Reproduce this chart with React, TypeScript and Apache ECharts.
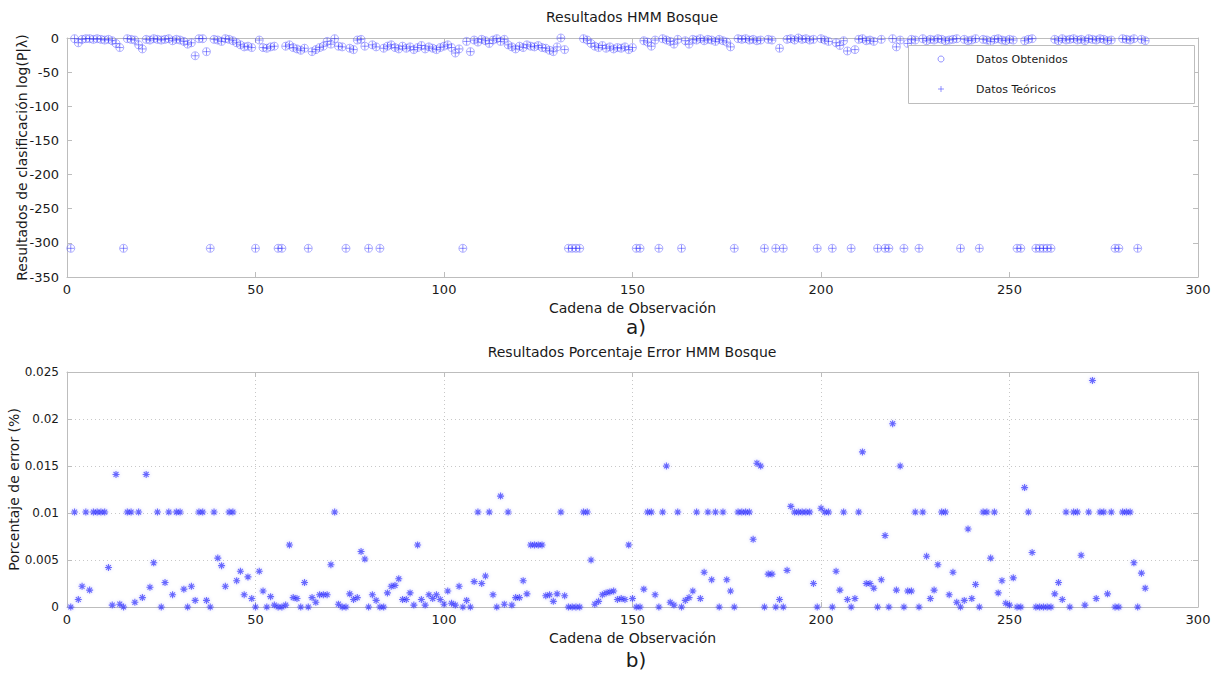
import React, { useEffect, useRef } from "react";
import * as echarts from "echarts";

// Observation index runs 1..286
const logLikelihood = [
  -308, -1, -7, -2, -1, -1, -2, -1, -2, -3,
  -2, -4, -8, -14, -308, -1, -2, -3, -10, -16,
  -2, -3, -1, -2, -3, -2, -1, -4, -2, -3,
  -5, -9, -7, -26, -1, -1, -20, -308, -2, -3,
  -5, -1, -2, -4, -7, -10, -13, -12, -14, -308,
  -3, -14, -15, -13, -12, -308, -308, -12, -10, -14,
  -16, -18, -15, -308, -20, -17, -14, -12, -5, -9,
  -1, -12, -13, -308, -15, -17, -3, -2, -12, -308,
  -10, -13, -308, -15, -12, -10, -14, -16, -12, -15,
  -13, -17, -14, -11, -16, -13, -15, -17, -14, -12,
  -10, -14, -22, -16, -308, -5, -20, -3, -6, -2,
  -4, -8, -3, -1, -5, -2, -10, -13, -16, -12,
  -14, -10, -12, -13, -11, -14, -15, -18, -20, -13,
  0, -17, -308, -308, -308, -308, -1, -3, -8, -12,
  -14, -11, -15, -13, -16, -14, -15, -13, -17, -14,
  -308, -308, -4, -6, -12, -3, -308, -1, -3, -5,
  -9, -2, -308, -4, -9, -2, -3, -1, -4, -2,
  -3, -5, -2, -4, -6, -13, -308, -1, -2, -1,
  -3, -2, -4, -3, -308, -2, -3, -308, -15, -308,
  -2, -1, -3, 0, -2, -1, -3, -2, -308, -1,
  -3, -5, -308, -7, -11, -4, -19, -308, -17, -2,
  -1, -4, -3, -5, -308, -2, -308, -308, -1, -13,
  -3, -308, -8, -2, -3, -308, -1, -4, -2, -3,
  -1, -2, -4, -3, -2, -1, -308, -2, -4, -3,
  -1, -308, -2, -3, -5, -2, -1, -3, -4, -2,
  -3, -308, -308, -4, -2, -1, -308, -308, -308, -308,
  -308, -2, -4, -1, -3, -2, -1, -3, -2, -4,
  -1, -2, -3, -1, -2, -4, -3, -308, -308, -1,
  -2, -3, -1, -308, -2, -4,
];

const errorPct = [
  0, 0.0101, 0.0008, 0.0022, 0.0101, 0.0018, 0.0101, 0.0101, 0.0101, 0.0101,
  0.0042, 0.0002, 0.0141, 0.0003, 0, 0.0101, 0.0101, 0.0005, 0.0101, 0.001,
  0.0141, 0.0021, 0.0047, 0.0101, 0, 0.0026, 0.0101, 0.0013, 0.0101, 0.0101,
  0.0019, 0, 0.0022, 0.0007, 0.0101, 0.0101, 0.0007, 0, 0.0101, 0.0052,
  0.0044, 0.0022, 0.0101, 0.0101, 0.0028, 0.0038, 0.0013, 0.0032, 0.0009, 0,
  0.0038, 0.0017, 0, 0.0011, 0.0002, 0, 0, 0.0002, 0.0066, 0.001,
  0.0009, 0, 0.0026, 0, 0.001, 0.0005, 0.0013, 0.0013, 0.0013, 0.0045,
  0.0101, 0.0003, 0, 0, 0.0014, 0.0008, 0.001, 0.0059, 0.0051, 0,
  0.0013, 0.0007, 0, 0, 0.0015, 0.0022, 0.0023, 0.003, 0.0008, 0.0008,
  0.0015, 0.0002, 0.0066, 0.0008, 0.0002, 0.0013, 0.0009, 0.0013, 0.0008, 0.0003,
  0.0017, 0.0004, 0.0002, 0.0022, 0, 0.0007, 0, 0.0027, 0.0101, 0.0025,
  0.0033, 0.0101, 0.0013, 0, 0.0118, 0.0003, 0.0101, 0.0002, 0.001, 0.001,
  0.0028, 0.0014, 0.0066, 0.0066, 0.0066, 0.0066, 0.0012, 0.0013, 0.0006, 0.0014,
  0.0101, 0.0012, 0, 0, 0, 0, 0.0101, 0.0101, 0.005, 0.0003,
  0.0006, 0.0013, 0.0015, 0.0016, 0.0017, 0.0008, 0.0009, 0.0008, 0.0066, 0.0009,
  0, 0, 0.0019, 0.0101, 0.0101, 0.0013, 0, 0.0101, 0.015, 0.0005,
  0.0002, 0.0101, 0, 0.0007, 0.001, 0.0017, 0.0101, 0.0009, 0.0037, 0.0101,
  0.0029, 0.0101, 0, 0.0101, 0.0029, 0.0017, 0, 0.0101, 0.0101, 0.0101,
  0.0101, 0.0072, 0.0153, 0.015, 0, 0.0035, 0.0035, 0, 0.0008, 0,
  0.0039, 0.0107, 0.0101, 0.0101, 0.0101, 0.0101, 0.0101, 0.0025, 0, 0.0105,
  0.0101, 0.0101, 0, 0.0038, 0.0018, 0.0101, 0.0008, 0, 0.0009, 0.0101,
  0.0165, 0.0025, 0.0025, 0.002, 0, 0.0029, 0.0076, 0, 0.0195, 0.0018,
  0.015, 0, 0.0017, 0.0017, 0.0101, 0, 0.0101, 0.0054, 0.0009, 0.0018,
  0.0045, 0.0101, 0.0101, 0.0013, 0.0037, 0.0005, 0, 0.0007, 0.0083, 0.0009,
  0.0024, 0, 0.0101, 0.0101, 0.0052, 0.0101, 0.0015, 0.0028, 0.0004, 0.0002,
  0.0031, 0, 0, 0.0127, 0.0101, 0.0058, 0, 0, 0, 0,
  0, 0.0014, 0.0026, 0.0008, 0.0101, 0, 0.0101, 0.0101, 0.0055, 0.0002,
  0.0101, 0.0241, 0.0009, 0.0101, 0.0101, 0.0014, 0.0101, 0, 0, 0.0101,
  0.0101, 0.0101, 0.0047, 0, 0.0036, 0.002,
];

const FONT = "DejaVu Sans";
const AXIS_COLOR = "#bdbdbd";
const TEXT = "#1a1a1a";
const TICK_FONT = 13;

const PLUS = "path://M5 0 L5 10 M0 5 L10 5";
const STAR = "path://M5 0 L5 10 M0 5 L10 5 M1.5 1.5 L8.5 8.5 M8.5 1.5 L1.5 8.5";

export default function App() {
  const ref = useRef<HTMLDivElement>(null);
  useEffect(() => {
    document.body.style.margin = "0";
    const chart = echarts.init(ref.current!, null, { renderer: "svg" });
    const topData = logLikelihood.map((v, i) => [i + 1, v]);
    const errData = errorPct.map((v, i) => [i + 1, v]);

    const baseX = (grid: number, split: boolean) => ({
      type: "value",
      gridIndex: grid,
      min: 0,
      max: 300,
      interval: 50,
      axisLine: { show: true, onZero: false, lineStyle: { color: AXIS_COLOR } },
      axisTick: { show: true, inside: true, length: 5, lineStyle: { color: AXIS_COLOR } },
      axisLabel: { color: TEXT, fontFamily: FONT, fontSize: TICK_FONT, margin: 6 },
      splitLine: split
        ? { show: true, lineStyle: { color: "#c8c8c8", type: [1, 3] } }
        : { show: false },
      name: "Cadena de Observación",
      nameLocation: "middle",
      nameGap: 24,
      nameMoveOverlap: false,
      nameTextStyle: { color: TEXT, fontFamily: FONT, fontSize: 14 },
    });
    const mirrorX = (grid: number) => ({
      type: "value",
      gridIndex: grid,
      position: "top",
      min: 0,
      max: 300,
      interval: 50,
      axisLine: { show: true, onZero: false, lineStyle: { color: AXIS_COLOR } },
      axisTick: { show: true, inside: true, length: 5, lineStyle: { color: AXIS_COLOR } },
      axisLabel: { show: false },
      splitLine: { show: false },
    });
    const mirrorY = (grid: number, min: number, max: number, interval: number) => ({
      type: "value",
      gridIndex: grid,
      position: "right",
      min,
      max,
      interval,
      axisLine: { show: true, onZero: false, lineStyle: { color: AXIS_COLOR } },
      axisTick: { show: true, inside: true, length: 5, lineStyle: { color: AXIS_COLOR } },
      axisLabel: { show: false },
      splitLine: { show: false },
    });

    chart.setOption({
      animation: false,
      backgroundColor: "#ffffff",
      grid: [
        { left: 67, right: 17, top: 38, height: 239, outerBoundsMode: "none", containLabel: false },
        { left: 67, right: 17, top: 372, height: 235, outerBoundsMode: "none", containLabel: false },
      ],
      xAxis: [baseX(0, false), baseX(1, true), mirrorX(0), mirrorX(1)],
      yAxis: [
        {
          type: "value",
          gridIndex: 0,
          min: -350,
          max: 0,
          interval: 50,
          axisLine: { show: true, onZero: false, lineStyle: { color: AXIS_COLOR } },
          axisTick: { show: true, inside: true, length: 5, lineStyle: { color: AXIS_COLOR } },
          axisLabel: { color: TEXT, fontFamily: FONT, fontSize: TICK_FONT, margin: 8 },
          splitLine: { show: false },
          name: "Resultados de clasificación log(P|λ)",
          nameLocation: "middle",
          nameGap: 38,
          nameMoveOverlap: false,
          nameTextStyle: { color: TEXT, fontFamily: FONT, fontSize: 14 },
        },
        {
          type: "value",
          gridIndex: 1,
          min: 0,
          max: 0.025,
          interval: 0.005,
          axisLine: { show: true, onZero: false, lineStyle: { color: AXIS_COLOR } },
          axisTick: { show: true, inside: true, length: 5, lineStyle: { color: AXIS_COLOR } },
          axisLabel: {
            color: TEXT,
            fontFamily: FONT,
            fontSize: 12,
            margin: 8,
            formatter: (v: number) => String(+v.toFixed(3)),
          },
          splitLine: { show: true, lineStyle: { color: "#c8c8c8", type: [1, 3] } },
          name: "Porcentaje de error (%)",
          nameLocation: "middle",
          nameGap: 46,
          nameMoveOverlap: false,
          nameTextStyle: { color: TEXT, fontFamily: FONT, fontSize: 14 },
        },
        mirrorY(0, -350, 0, 50),
        mirrorY(1, 0, 0.025, 0.005),
      ],
      series: [
        {
          name: "Datos Obtenidos",
          type: "scatter",
          xAxisIndex: 0,
          yAxisIndex: 0,
          data: topData,
          symbol: "circle",
          symbolSize: 8,
          clip: false,
          silent: true,
          itemStyle: { color: "rgba(0,0,0,0)", borderColor: "rgba(60,60,255,0.5)", borderWidth: 1 },
        },
        {
          name: "Datos Teóricos",
          type: "scatter",
          xAxisIndex: 0,
          yAxisIndex: 0,
          data: topData,
          symbol: PLUS,
          symbolSize: 7,
          clip: false,
          silent: true,
          itemStyle: { color: "rgba(0,0,0,0)", borderColor: "rgba(30,30,255,0.6)", borderWidth: 1 },
        },
        {
          name: "Porcentaje Error",
          type: "scatter",
          xAxisIndex: 1,
          yAxisIndex: 1,
          data: errData,
          symbol: STAR,
          symbolSize: 7,
          clip: false,
          silent: true,
          itemStyle: {
            color: "rgba(0,0,0,0)",
            borderColor: "rgba(20,20,255,0.75)",
            borderWidth: 1.1,
            shadowColor: "rgba(80,80,255,0.5)",
            shadowBlur: 3,
          },
        },
      ],
      graphic: [
        {
          type: "text",
          x: 632,
          y: 17,
          z: 100,
          style: { text: "Resultados HMM Bosque", fill: TEXT, font: `14px '${FONT}'`, align: "center", verticalAlign: "middle" },
        },
        {
          type: "text",
          x: 632,
          y: 352,
          z: 100,
          style: { text: "Resultados Porcentaje Error HMM Bosque", fill: TEXT, font: `14px '${FONT}'`, align: "center", verticalAlign: "middle" },
        },
        {
          type: "text",
          x: 636,
          y: 327,
          z: 100,
          style: { text: "a)", fill: TEXT, font: `20px '${FONT}'`, align: "center", verticalAlign: "middle" },
        },
        {
          type: "text",
          x: 636,
          y: 660,
          z: 100,
          style: { text: "b)", fill: TEXT, font: `20px '${FONT}'`, align: "center", verticalAlign: "middle" },
        },
        {
          type: "group",
          z: 100,
          children: [
            {
              type: "rect",
              shape: { x: 908.5, y: 45.5, width: 286, height: 58 },
              style: { fill: "#ffffff", stroke: "#bdbdbd", lineWidth: 1 },
              z: 100,
            },
            {
              type: "circle",
              shape: { cx: 941, cy: 59, r: 3 },
              style: { fill: "none", stroke: "rgba(60,60,255,0.55)", lineWidth: 1 },
              z: 101,
            },
            {
              type: "text",
              x: 976,
              y: 59,
              z: 101,
              style: { text: "Datos Obtenidos", fill: TEXT, font: `11px '${FONT}'`, verticalAlign: "middle" },
            },
            {
              type: "line",
              shape: { x1: 938, y1: 89, x2: 944, y2: 89 },
              style: { stroke: "rgba(60,60,255,0.55)", lineWidth: 1 },
              z: 101,
            },
            {
              type: "line",
              shape: { x1: 941, y1: 86, x2: 941, y2: 92 },
              style: { stroke: "rgba(60,60,255,0.55)", lineWidth: 1 },
              z: 101,
            },
            {
              type: "text",
              x: 976,
              y: 89,
              z: 101,
              style: { text: "Datos Teóricos", fill: TEXT, font: `11px '${FONT}'`, verticalAlign: "middle" },
            },
          ],
        },
      ],
    });
    return () => chart.dispose();
  }, []);
  return <div ref={ref} style={{ width: 1215, height: 675 }} />;
}
